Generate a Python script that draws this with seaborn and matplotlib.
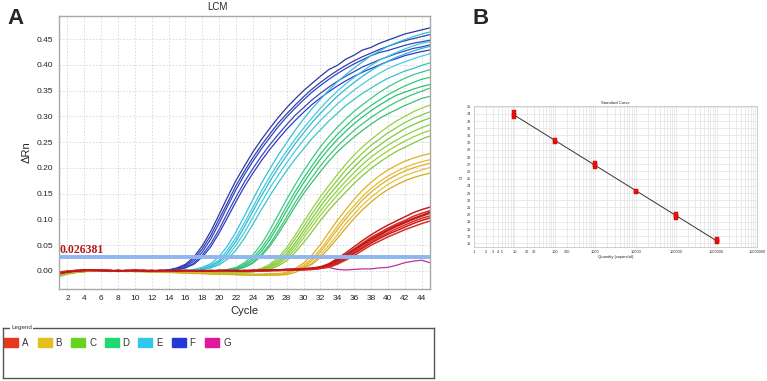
import numpy as np
import pandas as pd
import matplotlib
matplotlib.use("Agg")
import matplotlib.pyplot as plt
import matplotlib.patches as mpatches
from matplotlib.ticker import FixedLocator, NullFormatter, LogLocator
import seaborn as sns

# ---------------- data ----------------
cycles = list(range(1, 46))
threshold = 0.026381

# delta Rn per well, in thousandths (cycles 1..45)
curves_F = [
    [-4, -2, -1, 0, 1, 0, 0, 1, 0, -1, 0, 1, 0, 2, 6, 13, 27, 49, 77, 110,
     144, 176, 204, 231, 255, 277, 298, 317, 334, 350, 364, 378, 391, 399, 411, 419, 429, 434, 442, 448,
     454, 460, 464, 468, 472],
    [-2, -1, 0, 0, 0, 1, 0, 0, 1, 0, 0, 0, 1, 2, 5, 11, 23, 43, 69, 101,
     133, 166, 194, 220, 244, 266, 287, 305, 322, 338, 353, 366, 378, 389, 399, 408, 416, 423, 430, 436,
     442, 447, 451, 455, 459],
    [-3, -1, 0, 1, 0, 0, 1, 0, 0, 0, 1, 0, 0, 1, 4, 9, 19, 37, 62, 93,
     126, 158, 187, 213, 237, 259, 280, 299, 316, 332, 347, 360, 372, 383, 393, 402, 410, 418, 424, 428,
     433, 438, 442, 445, 448],
    [-5, -2, -1, 0, 0, 1, 0, 0, 0, 1, 0, 0, 0, 1, 3, 7, 15, 31, 53, 81,
     113, 144, 173, 199, 223, 245, 265, 284, 302, 317, 332, 345, 357, 368, 378, 387, 396, 403, 410, 416,
     422, 427, 432, 435, 439],
    [-3, -1, 0, 0, 1, 0, 0, 1, 0, 0, 0, 1, 0, 0, 2, 6, 13, 27, 47, 74,
     104, 135, 164, 190, 214, 236, 256, 275, 292, 308, 323, 336, 348, 359, 369, 378, 386, 393, 400, 407,
     412, 418, 422, 426, 429],
]
curves_E = [
    [-6, -3, -1, 0, 0, 1, 0, 0, 1, 0, 0, 0, 1, 0, 0, 1, 3, 7, 14, 28,
     49, 76, 107, 139, 170, 198, 225, 249, 273, 295, 315, 333, 351, 367, 381, 394, 406, 418, 427, 436,
     443, 449, 455, 460, 464],
    [-4, -2, -1, 0, 0, 0, 1, 0, 0, 0, 1, 0, 0, 0, 1, 0, 2, 5, 11, 21,
     41, 65, 94, 124, 155, 183, 209, 233, 256, 277, 297, 316, 333, 349, 363, 376, 388, 399, 409, 417,
     424, 431, 437, 442, 445],
    [-5, -2, 0, 0, 1, 0, 0, 0, 1, 0, 0, 1, 0, 0, 0, 0, 1, 4, 9, 18,
     35, 58, 86, 116, 146, 174, 200, 224, 247, 268, 288, 306, 323, 339, 353, 366, 378, 389, 399, 407,
     415, 421, 427, 432, 436],
    [-7, -3, -1, 0, 0, 0, 1, 0, 0, 1, 0, 0, 0, 1, 0, 0, 1, 3, 7, 15,
     29, 50, 75, 104, 133, 161, 186, 210, 233, 254, 274, 292, 308, 324, 338, 351, 363, 374, 384, 393,
     400, 406, 412, 417, 422],
    [-4, -2, -1, 0, 1, 0, 0, 0, 0, 1, 0, 0, 1, 0, 0, 0, 0, 2, 6, 12,
     23, 41, 64, 91, 119, 146, 171, 195, 217, 237, 257, 274, 291, 306, 321, 333, 345, 355, 365, 374,
     381, 388, 393, 399, 404],
]
curves_D = [
    [-8, -4, -2, -1, 0, 0, 1, 0, 0, 0, 1, 0, 0, 0, -1, 0, 0, 0, 1, 1,
     3, 7, 16, 31, 52, 79, 109, 139, 167, 194, 218, 241, 261, 279, 295, 310, 323, 335, 347, 357,
     366, 374, 381, 386, 391],
    [-6, -3, -1, 0, 0, 1, 0, 0, -1, 0, 0, 0, 1, 0, 0, -1, 0, 0, 0, 1,
     2, 5, 13, 25, 44, 68, 96, 126, 154, 180, 204, 227, 247, 265, 281, 296, 309, 321, 332, 342,
     351, 359, 366, 372, 376],
    [-9, -5, -2, -1, 0, 0, 0, 1, 0, 0, 0, -1, 0, 0, 0, 0, -1, 0, 0, 0,
     1, 4, 10, 21, 38, 61, 88, 117, 145, 171, 195, 217, 237, 255, 271, 286, 299, 311, 322, 332,
     341, 347, 353, 358, 362],
    [-7, -4, -2, 0, 0, 0, 1, 0, 0, -1, 0, 0, 0, -1, 0, 0, 0, -1, 0, 0,
     1, 3, 8, 17, 32, 52, 78, 105, 133, 158, 182, 204, 224, 242, 258, 273, 286, 298, 309, 319,
     328, 336, 343, 349, 355],
    [-10, -5, -2, -1, 0, 0, 0, 0, 1, 0, 0, 0, -1, 0, 0, -1, 0, 0, -1, 0,
     0, 2, 7, 15, 29, 48, 72, 98, 125, 150, 172, 193, 213, 231, 246, 260, 273, 285, 296, 305,
     313, 321, 328, 335, 339],
]
curves_C = [
    [-9, -5, -3, -1, 0, 0, 0, 0, -1, 0, 0, -1, 0, -1, -1, -2, -2, -2, -3, -3,
     -2, -2, -1, 1, 5, 13, 26, 45, 69, 95, 120, 144, 166, 187, 207, 225, 241, 255, 268, 280,
     291, 300, 309, 316, 322],
    [-7, -4, -2, -1, 0, 0, -1, 0, 0, 0, -1, 0, -1, -1, -2, -2, -3, -3, -3, -3,
     -3, -2, -2, 1, 4, 10, 22, 39, 62, 86, 111, 134, 156, 176, 196, 213, 229, 244, 256, 268,
     278, 288, 296, 303, 309],
    [-10, -6, -3, -1, 0, 0, 0, -1, 0, 0, 0, -1, -1, -2, -2, -2, -3, -3, -4, -4,
     -3, -3, -2, 0, 3, 8, 18, 33, 54, 78, 102, 125, 147, 166, 185, 202, 218, 232, 244, 256,
     266, 276, 284, 291, 297],
    [-8, -5, -2, -1, 0, 0, 0, 0, -1, 0, -1, -1, -1, -2, -2, -3, -3, -4, -4, -4,
     -4, -3, -2, 0, 2, 6, 15, 29, 48, 71, 94, 116, 137, 156, 174, 191, 207, 221, 233, 244,
     254, 263, 271, 278, 284],
    [-11, -6, -3, -1, 0, 0, -1, 0, 0, -1, -1, -1, -2, -2, -3, -3, -3, -4, -4, -5,
     -4, -4, -3, -1, 1, 5, 13, 25, 42, 64, 86, 108, 128, 147, 165, 181, 196, 210, 222, 233,
     243, 252, 260, 267, 273],
    [-9, -5, -3, -1, -1, 0, 0, -1, 0, -1, -1, -2, -2, -2, -3, -3, -4, -4, -5, -5,
     -5, -4, -4, -2, 1, 3, 10, 20, 36, 55, 76, 98, 118, 136, 153, 170, 185, 199, 211, 222,
     232, 240, 248, 256, 262],
]
curves_B = [
    [-6, -3, -1, 0, 0, 0, 0, -1, 0, 0, -1, -1, -1, -2, -2, -3, -3, -4, -4, -5,
     -5, -5, -6, -6, -6, -5, -5, -3, 5, 15, 31, 51, 75, 98, 119, 139, 157, 172, 185, 196,
     205, 213, 219, 224, 228],
    [-5, -3, -1, 0, 0, -1, 0, 0, -1, 0, -1, -1, -2, -2, -3, -3, -4, -4, -5, -5,
     -6, -6, -6, -7, -7, -6, -6, -4, 3, 11, 24, 42, 64, 87, 108, 127, 145, 160, 173, 184,
     193, 201, 207, 212, 216],
    [-7, -4, -2, -1, 0, 0, 0, -1, 0, -1, -1, -2, -2, -2, -3, -4, -4, -5, -5, -6,
     -6, -7, -7, -7, -8, -7, -7, -5, 2, 8, 20, 37, 58, 80, 101, 120, 138, 153, 166, 177,
     186, 194, 200, 205, 209],
    [-6, -3, -1, 0, 0, 0, -1, 0, 0, -1, -1, -1, -2, -3, -3, -4, -4, -5, -5, -6,
     -6, -7, -7, -8, -8, -8, -7, -6, 1, 6, 15, 31, 50, 70, 92, 110, 128, 143, 156, 168,
     177, 185, 191, 196, 201],
    [-8, -4, -2, -1, 0, 0, 0, -1, -1, -1, -1, -2, -2, -3, -3, -4, -5, -5, -6, -6,
     -7, -7, -8, -8, -8, -8, -8, -7, -3, 5, 13, 26, 44, 63, 83, 102, 119, 134, 147, 158,
     167, 175, 181, 186, 190],
]
curves_A = [
    [-5, -2, 0, 1, 2, 1, 0, 1, 0, 1, 0, 0, 1, 0, 1, 0, 0, 1, 0, 0,
     1, 1, 0, 1, 1, 2, 2, 3, 3, 4, 5, 8, 14, 24, 35, 47, 59, 70, 80, 89,
     97, 105, 113, 119, 124],
    [-3, -1, 0, 1, 1, 2, 1, 0, 0, 0, 1, 0, 0, 1, 0, 0, 1, 0, 0, 1,
     0, 0, 1, 1, 1, 1, 2, 2, 3, 3, 4, 7, 11, 20, 31, 42, 54, 65, 74, 83,
     91, 98, 106, 112, 117],
    [-4, -1, 1, 1, 2, 1, 0, 0, 1, 2, 1, 0, 0, 0, 1, 1, 0, 0, 1, 0,
     0, 1, 0, 0, 1, 1, 2, 2, 3, 3, 4, 6, 10, 18, 28, 39, 50, 60, 69, 78,
     86, 93, 100, 106, 112],
    [-2, 0, 1, 2, 1, 1, 0, 1, 0, 1, 0, 1, 0, 0, 0, 1, 0, 1, 0, 0,
     1, 0, 0, 1, 0, 1, 1, 2, 2, 3, 4, 5, 9, 16, 25, 36, 47, 57, 66, 74,
     82, 89, 96, 102, 107],
    [-4, -1, 0, 1, 2, 2, 1, 0, 0, 1, 1, 0, 1, 0, 0, 0, 1, 0, 0, 1,
     0, 0, 1, 0, 1, 1, 1, 2, 2, 3, 3, 5, 8, 15, 24, 34, 44, 54, 63, 71,
     78, 85, 92, 98, 103],
    [-3, -1, 1, 1, 1, 2, 0, 1, 0, 0, 1, 1, 0, 0, 1, 0, 0, 0, 1, 0,
     0, 1, 0, 0, 0, 1, 1, 1, 2, 2, 3, 5, 7, 13, 21, 30, 40, 50, 58, 66,
     73, 80, 86, 92, 97],
    [-5, -2, 0, 2, 1, 1, 1, 0, 1, 1, 0, 0, 1, 1, 0, 1, 0, 0, 0, 1,
     1, 0, 0, 1, 1, 1, 2, 3, 3, 4, 5, 7, 12, 21, 31, 42, 52, 62, 71, 80,
     88, 95, 102, 108, 114],
]
curves_G = [
    [-4, -2, 0, 1, 1, 0, 0, 1, 0, 0, 1, 0, 0, 0, 1, 0, 0, 1, 0, 0,
     1, 0, 1, 1, 1, 2, 2, 3, 4, 5, 6, 8, 7, 3, 2, 3, 4, 4, 6, 7,
     11, 16, 19, 21, 16],
]

groups = ["A", "B", "C", "D", "E", "F", "G"]
curves = {"A": curves_A, "B": curves_B, "C": curves_C, "D": curves_D,
          "E": curves_E, "F": curves_F, "G": curves_G}

# standard curve: quantity (copies/ul) and replicate Ct values
std_qty = [10, 100, 1000, 10000, 100000, 1000000]
std_ct = [[33.55, 33.85, 34.2], [30.05, 30.4], [26.6, 26.9, 27.2],
          [23.15, 23.35], [19.6, 19.85, 20.1], [16.2, 16.4, 16.6]]

# ---------------- style ----------------
line_colors = {
    "A": ["#c82020", "#d42a20", "#cc2428", "#e03020", "#c41c1c", "#d83028", "#b81818"],
    "B": ["#e0b020", "#e6bc30", "#dcb028", "#e4c040", "#d8a820"],
    "C": ["#98d040", "#88cc44", "#7cc83c", "#8ed048", "#a0d038", "#84c840"],
    "D": ["#3cc890", "#30c878", "#2cc46c", "#40c480", "#3ac070"],
    "E": ["#36c0d8", "#40c8e0", "#30b8d0", "#48cce0", "#38c4c8"],
    "F": ["#2b3a9e", "#3340b0", "#2f44c4", "#3a48b8", "#2d3cc8"],
    "G": ["#c0309c"],
}
swatch_colors = {"A": "#e8381c", "B": "#e2c01e", "C": "#66d41e", "D": "#22d870",
                 "E": "#2ec8e8", "F": "#2438d8", "G": "#e0189a"}

sns.set_style("white")
plt.rcParams["font.family"] = ["Liberation Sans", "DejaVu Sans"]

rows = []
for g in groups:
    for i, c in enumerate(curves[g]):
        for cyc, v in zip(cycles, c):
            rows.append((g, f"{g}{i}", cyc, v / 1000.0))
df = pd.DataFrame(rows, columns=["group", "well", "cycle", "drn"])

draw_order = ["F", "E", "D", "C", "B", "G", "A"]
well_order, palette = [], {}
for g in draw_order:
    for i in range(len(curves[g])):
        well_order.append(f"{g}{i}")
        palette[f"{g}{i}"] = line_colors[g][i % len(line_colors[g])]

W, H = 767, 381
fig = plt.figure(figsize=(W / 100, H / 100), dpi=100)

# ---------------- panel A ----------------
axA = fig.add_axes([59 / W, 92 / H, 371 / W, 273 / H])
sns.lineplot(data=df[df["group"] != "A"], x="cycle", y="drn", hue="well",
             hue_order=[w for w in well_order if not w.startswith("A")],
             palette=palette, estimator=None, lw=0.9, legend=False, ax=axA)
sns.lineplot(data=df[df["group"] == "A"], x="cycle", y="drn", hue="well",
             hue_order=[w for w in well_order if w.startswith("A")],
             palette=palette, estimator=None, lw=1.1, legend=False, ax=axA)
axA.axhline(threshold, color="#8fb6ee", lw=2.8, zorder=5)
axA.text(1.05, threshold + 0.003, f"{threshold:.6f}", color="#b41c1c",
         family="Liberation Serif", weight="bold", fontsize=8.5,
         ha="left", va="bottom", zorder=6)
axA.set_xlim(1, 45)
axA.set_ylim(-0.035, 0.495)
axA.set_xticks(range(2, 45, 2))
axA.set_yticks(np.arange(0, 0.46, 0.05))
axA.set_yticklabels([f"{t:.2f}" for t in np.arange(0, 0.46, 0.05)])
axA.grid(True, ls=(0, (2, 2)), color="#d6d6d6", lw=0.6)
axA.tick_params(labelsize=6, length=2, color="#909090", pad=2, colors="#222222")
for s in axA.spines.values():
    s.set_color("#a8a8a8")
    s.set_linewidth(1)
axA.set_xlabel("Cycle", fontsize=8, labelpad=3)
axA.set_ylabel("\u0394Rn", fontsize=8, labelpad=4)
fig.text(217 / W, 1 - 7 / H, "LCM", ha="center", va="center", fontsize=7)
fig.text(15 / W, 1 - 18 / H, "A", ha="center", va="center", fontsize=16, weight="bold")
fig.text(481 / W, 1 - 18 / H, "B", ha="center", va="center", fontsize=16, weight="bold")

# ---------------- legend box ----------------
axL = fig.add_axes([3 / W, 3 / H, 431 / W, 50 / H])
axL.set_xlim(0, 431)
axL.set_ylim(0, 50)
axL.set_xticks([])
axL.set_yticks([])
for s in axL.spines.values():
    s.set_color("#555555")
    s.set_linewidth(1)
axL.text(8, 50, "Legend", fontsize=4.5, ha="left", va="center", color="#333333",
         bbox=dict(facecolor="white", edgecolor="none", pad=0.8), clip_on=False)
for i, g in enumerate(groups):
    x0 = 1 + 33.5 * i
    axL.add_patch(mpatches.Rectangle((x0, 31), 14, 9.5, color=swatch_colors[g]))
    axL.text(x0 + 18, 35.5, g, fontsize=7, ha="left", va="center", color="#333333")

# ---------------- panel B ----------------
axB = fig.add_axes([474 / W, 134 / H, 283 / W, 141 / H])
std_rows = [(q, ct) for q, cts in zip(std_qty, std_ct) for ct in cts]
std_df = pd.DataFrame(std_rows, columns=["qty", "ct"])
slope, intercept = np.polyfit(np.log10(std_df["qty"]), std_df["ct"], 1)
fit_x = np.array([min(std_qty), max(std_qty)], dtype=float)
axB.plot(fit_x, intercept + slope * np.log10(fit_x), color="#333333", lw=0.7, zorder=2)
sns.scatterplot(data=std_df, x="qty", y="ct", marker="s", s=9, color="#f01010",
                edgecolor="#c00000", linewidth=0.3, ax=axB, zorder=3)
axB.set_xscale("log")
axB.set_xlim(1, 1e7)
axB.set_ylim(15.5, 35.1)
xt = [1, 2, 3, 4, 5, 10, 20, 30, 100, 200, 1000, 10000, 100000, 1000000, 10000000]
axB.xaxis.set_major_locator(FixedLocator(xt))
axB.set_xticklabels([str(v) for v in xt])
axB.xaxis.set_minor_locator(LogLocator(base=10, subs=np.arange(1, 10), numticks=20))
axB.xaxis.set_minor_formatter(NullFormatter())
axB.set_yticks(range(16, 36))
axB.grid(True, which="both", color="#e2e2e2", lw=0.5)
axB.tick_params(labelsize=2.8, length=1.2, pad=1, color="#999999", colors="#333333")
axB.tick_params(which="minor", length=0)
for s in axB.spines.values():
    s.set_color("#c8c8c8")
    s.set_linewidth(0.6)
axB.set_title("Standard Curve", fontsize=3, pad=1.5)
axB.set_xlabel("Quantity (copies/ul)", fontsize=3, labelpad=1)
axB.set_ylabel("Ct", fontsize=3, labelpad=2)

fig.savefig("out.png", dpi=100)
